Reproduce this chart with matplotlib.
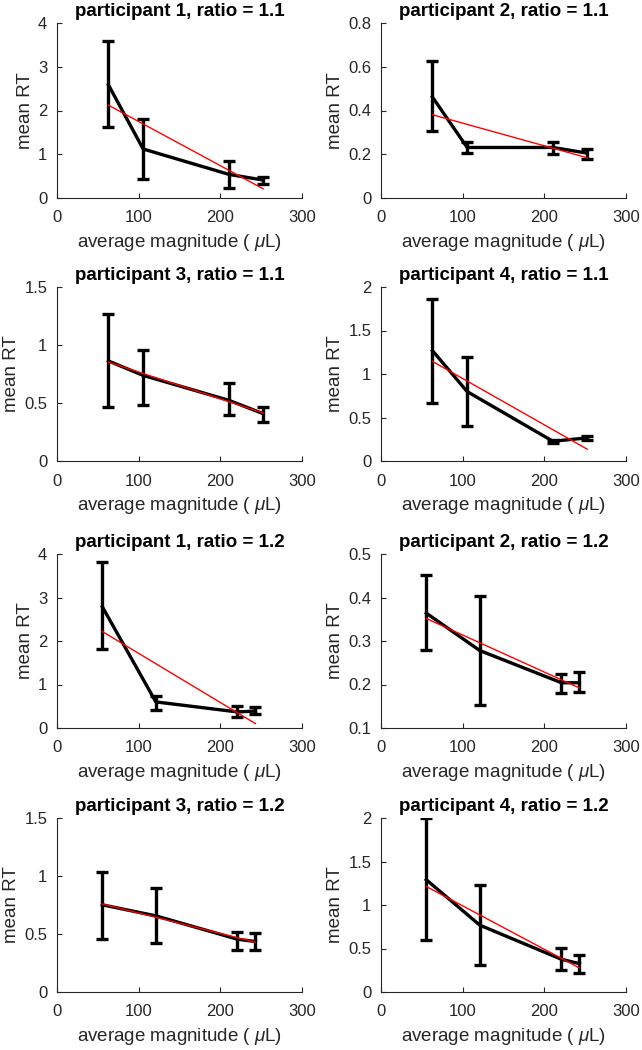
import numpy as np
import matplotlib
matplotlib.use("Agg")
import matplotlib.pyplot as plt
from matplotlib.ticker import FuncFormatter

plt.rcParams['font.family'] = ['Liberation Sans', 'DejaVu Sans']
plt.rcParams['mathtext.fontset'] = 'custom'
plt.rcParams['mathtext.it'] = 'Liberation Sans:italic'

# x positions (average magnitude, uL)
x_r11 = [63, 105.5, 210.5, 252.5]
x_r12 = [55.5, 121, 221, 243]

titles = ["participant 1, ratio = 1.1", "participant 2, ratio = 1.1",
          "participant 3, ratio = 1.1", "participant 4, ratio = 1.1",
          "participant 1, ratio = 1.2", "participant 2, ratio = 1.2",
          "participant 3, ratio = 1.2", "participant 4, ratio = 1.2"]

# mean RT values
mean_p1_r11 = [2.585, 1.12, 0.54, 0.41]
mean_p2_r11 = [0.4615, 0.231, 0.231, 0.205]
mean_p3_r11 = [0.862, 0.738, 0.523, 0.408]
mean_p4_r11 = [1.268, 0.798, 0.227, 0.266]
mean_p1_r12 = [2.787, 0.60, 0.369, 0.39]
mean_p2_r12 = [0.364, 0.278, 0.204, 0.204]
mean_p3_r12 = [0.7515, 0.6565, 0.455, 0.435]
mean_p4_r12 = [1.29, 0.768, 0.376, 0.326]

# error bar upper ends
upper_p1_r11 = [3.59, 1.81, 0.84, 0.47]
upper_p2_r11 = [0.625, 0.254, 0.254, 0.226]
upper_p3_r11 = [1.27, 0.96, 0.675, 0.466]
upper_p4_r11 = [1.86, 1.19, 0.239, 0.293]
upper_p1_r12 = [3.81, 0.737, 0.50, 0.484]
upper_p2_r12 = [0.4518, 0.4036, 0.223, 0.228]
upper_p3_r12 = [1.031, 0.893, 0.521, 0.5125]
upper_p4_r12 = [2.0, 1.228, 0.503, 0.426]

# error bar lower ends
lower_p1_r11 = [1.63, 0.44, 0.23, 0.32]
lower_p2_r11 = [0.305, 0.205, 0.2015, 0.18]
lower_p3_r11 = [0.466, 0.486, 0.394, 0.336]
lower_p4_r11 = [0.663, 0.40, 0.208, 0.239]
lower_p1_r12 = [1.81, 0.42, 0.253, 0.315]
lower_p2_r12 = [0.2782, 0.152, 0.181, 0.183]
lower_p3_r12 = [0.461, 0.426, 0.36, 0.36]
lower_p4_r12 = [0.595, 0.311, 0.25, 0.223]

y_ticks_list = [[0, 1, 2, 3, 4], [0, 0.2, 0.4, 0.6, 0.8],
                [0, 0.5, 1, 1.5], [0, 0.5, 1, 1.5, 2],
                [0, 1, 2, 3, 4], [0.1, 0.2, 0.3, 0.4, 0.5],
                [0, 0.5, 1, 1.5], [0, 0.5, 1, 1.5, 2]]
x_ticks = [0, 100, 200, 300]

xs = [x_r11] * 4 + [x_r12] * 4
means = [mean_p1_r11, mean_p2_r11, mean_p3_r11, mean_p4_r11,
         mean_p1_r12, mean_p2_r12, mean_p3_r12, mean_p4_r12]
uppers = [upper_p1_r11, upper_p2_r11, upper_p3_r11, upper_p4_r11,
          upper_p1_r12, upper_p2_r12, upper_p3_r12, upper_p4_r12]
lowers = [lower_p1_r11, lower_p2_r11, lower_p3_r11, lower_p4_r11,
          lower_p1_r12, lower_p2_r12, lower_p3_r12, lower_p4_r12]

fig = plt.figure(figsize=(6.42, 10.5), dpi=100)
W, H = 642, 1050
lefts = [57, 381]
tops = [23, 287, 554, 818]
bottoms = [198, 461, 728, 992]
axw = 245

fmt = FuncFormatter(lambda v, p: ('%g' % round(v, 6)))
axcol = '#262626'

for i in range(8):
    r, c = divmod(i, 2)
    l = lefts[c]
    t, b = tops[r], bottoms[r]
    ax = fig.add_axes([l / W, 1 - b / H, axw / W, (b - t) / H])
    x = np.array(xs[i], dtype=float)
    m = np.array(means[i])
    up = np.array(uppers[i])
    lo = np.array(lowers[i])
    ax.errorbar(x, m, yerr=[m - lo, up - m], color='black', lw=2.4,
                elinewidth=2.4, capsize=4.2, capthick=2.4, zorder=2)
    k, b0 = np.polyfit(x, m, 1)
    ax.plot(x[[0, -1]], k * x[[0, -1]] + b0, color='red', lw=1.0, zorder=3)
    yt = y_ticks_list[i]
    ax.set_xlim(0, 300)
    ax.set_ylim(yt[0], yt[-1])
    ax.set_xticks(x_ticks)
    ax.set_yticks(yt)
    ax.yaxis.set_major_formatter(fmt)
    ax.spines['top'].set_visible(False)
    ax.spines['right'].set_visible(False)
    for s in ['left', 'bottom']:
        ax.spines[s].set_color(axcol)
        ax.spines[s].set_linewidth(0.8)
    ax.tick_params(direction='in', length=3.5, width=0.8, colors=axcol,
                   labelsize=12)
    ax.tick_params(axis='x', pad=9)
    ax.tick_params(axis='y', pad=7)
    ax.set_xlabel(r'average magnitude ( $\mu$L)', fontsize=13.5, color=axcol, labelpad=5)
    ax.set_ylabel('mean RT', fontsize=13.5, color=axcol, labelpad=3)
    ax.set_title(titles[i], fontsize=13.5, fontweight='bold', pad=5)

fig.savefig('out.png', dpi=100)
